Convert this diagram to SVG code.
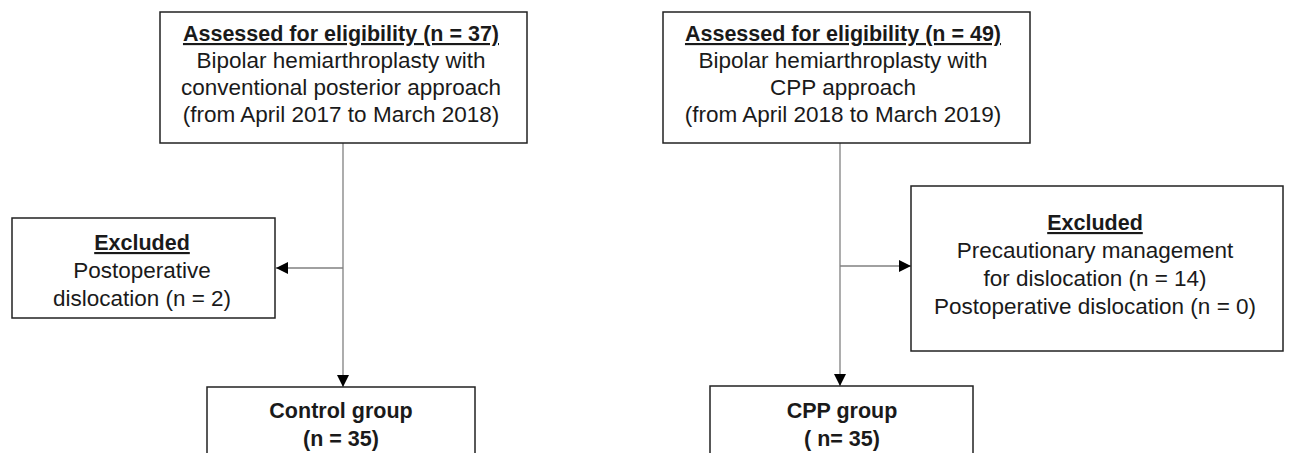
<svg xmlns="http://www.w3.org/2000/svg" width="1296" height="453" viewBox="0 0 1296 453">
<defs>
<marker id="arr" viewBox="0 0 12 12" refX="12" refY="6" markerWidth="12" markerHeight="12" markerUnits="userSpaceOnUse" orient="auto">
<path d="M0,0 L12,6 L0,12 Z" fill="#000"/>
</marker>
</defs>
<style>
.box{fill:#fff;stroke:#222;stroke-width:1.5}
.conn{stroke:#808080;stroke-width:1.3;fill:none}
text{font-family:"Liberation Sans",Arial,sans-serif;font-size:22.5px;fill:#1a1a1a;text-anchor:middle}
.b{font-weight:bold;font-size:21.5px}
.u{text-decoration:underline}
</style>
<rect width="1296" height="453" fill="#fff"/>
<g id="connectors">
<line class="conn" x1="343" y1="143" x2="343" y2="387" marker-end="url(#arr)"/>
<line class="conn" x1="343" y1="268" x2="276" y2="268" marker-end="url(#arr)"/>
<line class="conn" x1="840" y1="143" x2="840" y2="386" marker-end="url(#arr)"/>
<line class="conn" x1="840" y1="266" x2="911" y2="266" marker-end="url(#arr)"/>
</g>
<g id="assessed-control">
<rect class="box" x="160" y="12" width="367" height="131"/>
<text x="341" y="41" class="b u">Assessed for eligibility (n = 37)</text>
<text x="341" y="68">Bipolar hemiarthroplasty with</text>
<text x="341" y="95">conventional posterior approach</text>
<text x="341" y="122">(from April 2017 to March 2018)</text>
</g>
<g id="assessed-cpp">
<rect class="box" x="663" y="12" width="367" height="131"/>
<text x="843" y="41" class="b u">Assessed for eligibility (n = 49)</text>
<text x="843" y="68">Bipolar hemiarthroplasty with</text>
<text x="843" y="95">CPP approach</text>
<text x="843" y="122">(from April 2018 to March 2019)</text>
</g>
<g id="excluded-control">
<rect class="box" x="12" y="218" width="263" height="100"/>
<text x="142" y="250" class="b u">Excluded</text>
<text x="142" y="278">Postoperative</text>
<text x="142" y="306">dislocation (n = 2)</text>
</g>
<g id="excluded-cpp">
<rect class="box" x="911" y="186" width="372" height="165"/>
<text x="1095" y="230" class="b u">Excluded</text>
<text x="1095" y="258">Precautionary management</text>
<text x="1095" y="286">for dislocation (n = 14)</text>
<text x="1095" y="314">Postoperative dislocation (n = 0)</text>
</g>
<g id="control-group">
<rect class="box" x="207" y="387" width="268" height="80"/>
<text x="341" y="418" class="b">Control group</text>
<text x="341" y="446" class="b">(n = 35)</text>
</g>
<g id="cpp-group">
<rect class="box" x="710" y="386" width="263" height="80"/>
<text x="842" y="418" class="b">CPP group</text>
<text x="842" y="446" class="b">( n= 35)</text>
</g>
</svg>
